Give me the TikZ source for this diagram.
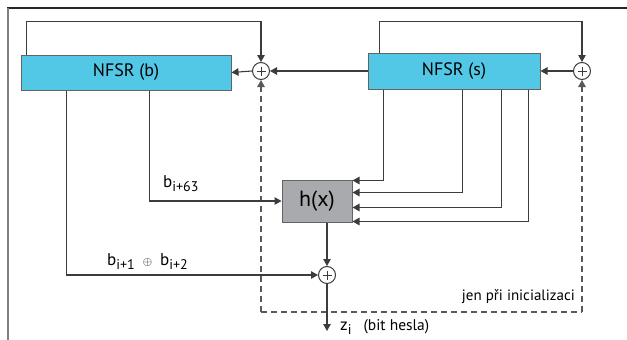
\documentclass[tikz,border=0pt]{standalone}
\usepackage{fontspec}
\setmainfont{PT Sans}
\usetikzlibrary{arrows.meta}

\definecolor{nfsrcyan}{RGB}{82,200,230}
\definecolor{hgray}{RGB}{168,170,173}
\definecolor{wire}{RGB}{60,60,60}

\newcommand{\idx}[1]{\raisebox{-4pt}{\fontsize{14}{16}\selectfont #1}}

\tikzset{
	wire/.style={draw=wire, line width=1.1pt},
	arr/.style={wire, -{Triangle[length=7pt,width=7.5pt]}},
	dashline/.style={draw=wire!85, line width=1.1pt, dash pattern=on 6pt off 4pt},
	regbox/.style={draw=wire!80, line width=1pt, fill=nfsrcyan, inner sep=0pt, font=\fontsize{18}{20}\selectfont},
	funbox/.style={draw=wire!80, line width=1pt, fill=hgray, inner sep=0pt, minimum width=70pt, minimum height=42pt, font=\fontsize{22}{24}\selectfont},
	xor/.style={circle, draw=wire, line width=1pt, fill=white, minimum size=17pt, inner sep=0pt,
		path picture={\draw[wire, line width=0.9pt] ([xshift=-4.5pt]path picture bounding box.center) -- ([xshift=4.5pt]path picture bounding box.center)
			([yshift=-4.5pt]path picture bounding box.center) -- ([yshift=4.5pt]path picture bounding box.center);}},
	lbl/.style={inner sep=0pt, font=\fontsize{17}{19}\selectfont}
}

\begin{document}
\begin{tikzpicture}[x=1pt, y=-1pt]
	\useasboundingbox (0,0) rectangle (627,340);
	% frame
	\draw[line width=1.5pt, black!85] (7,8) -- (627,8);
	\draw[line width=2.2pt, black!50] (8,8) -- (8,340);

	% registers and function
	\node[regbox, minimum width=210pt, minimum height=35pt] (nfsrb) at (126,72.5) {NFSR (b)};
	\node[regbox, minimum width=172pt, minimum height=36pt] (nfsrs) at (454,71) {NFSR (s)};
	\node[funbox] (hx) at (317,201) {h(x)};

	% xor gates
	\node[xor] (xorb) at (261,71) {};
	\node[xor] (xors) at (582,71) {};
	\node[xor] (xorz) at (327,275) {};

	\coordinate (dl) at (261,312);
	\coordinate (dr) at (582,312);
	\coordinate (zout) at (327,331);

	% feedback loops
	\draw[arr] ([xshift=6pt]nfsrb.north west) -- ++(0,-33) -| (xorb.north);
	\draw[arr] ([xshift=12pt]nfsrs.north west) -- ++(0,-31) -| (xors.north);
	\draw[arr] (xorb.west) -- (nfsrb.east);
	\draw[arr] (nfsrs.west) -- (xorb.east);
	\draw[arr] (xors.west) -- (nfsrs.east);

	% initialization path
	\draw[dashline] (dl) -- (dr);
	\draw[dashline, -{Triangle[length=7pt,width=7.5pt]}] (dl) -- (xorb.south);
	\draw[dashline, -{Triangle[length=7pt,width=7.5pt]}] (dr) -- (xors.south);
	\node[lbl, anchor=base east, font=\fontsize{15}{17}\selectfont] (init) at (575,300) {jen při inicializaci};

	% taps of NFSR (s) into h(x)
	\foreach \dx/\dy in {16/1, 95/13, 134/28, 161/42}
		\draw[arr] ([xshift=\dx pt]nfsrs.south west) |- ([yshift=-\dy pt]hx.north east);

	% taps of NFSR (b)
	\draw[arr] ([xshift=129pt]nfsrb.south west) |- (hx.west);
	\draw[arr] ([xshift=46pt]nfsrb.south west) |- (xorz.west);
	\node[lbl, anchor=base west] (bsixtythree) at (163,187) {b\idx{i+63}};
	\node[lbl, anchor=base west] (bonetwo) at (107,265) {b\idx{i+1}\hspace{8pt}{\fontsize{12}{14}\selectfont$\oplus$}\hspace{8pt}b\idx{i+2}};

	% output
	\draw[arr] ([xshift=10pt]hx.south) -- (xorz.north);
	\draw[arr] (xorz.south) -- (zout);
	\node[lbl, anchor=base west] (zlbl) at (340,330) {z\idx{i}\hspace{12pt}{\fontsize{15.5}{17}\selectfont(bit hesla)}};
\end{tikzpicture}
\end{document}
